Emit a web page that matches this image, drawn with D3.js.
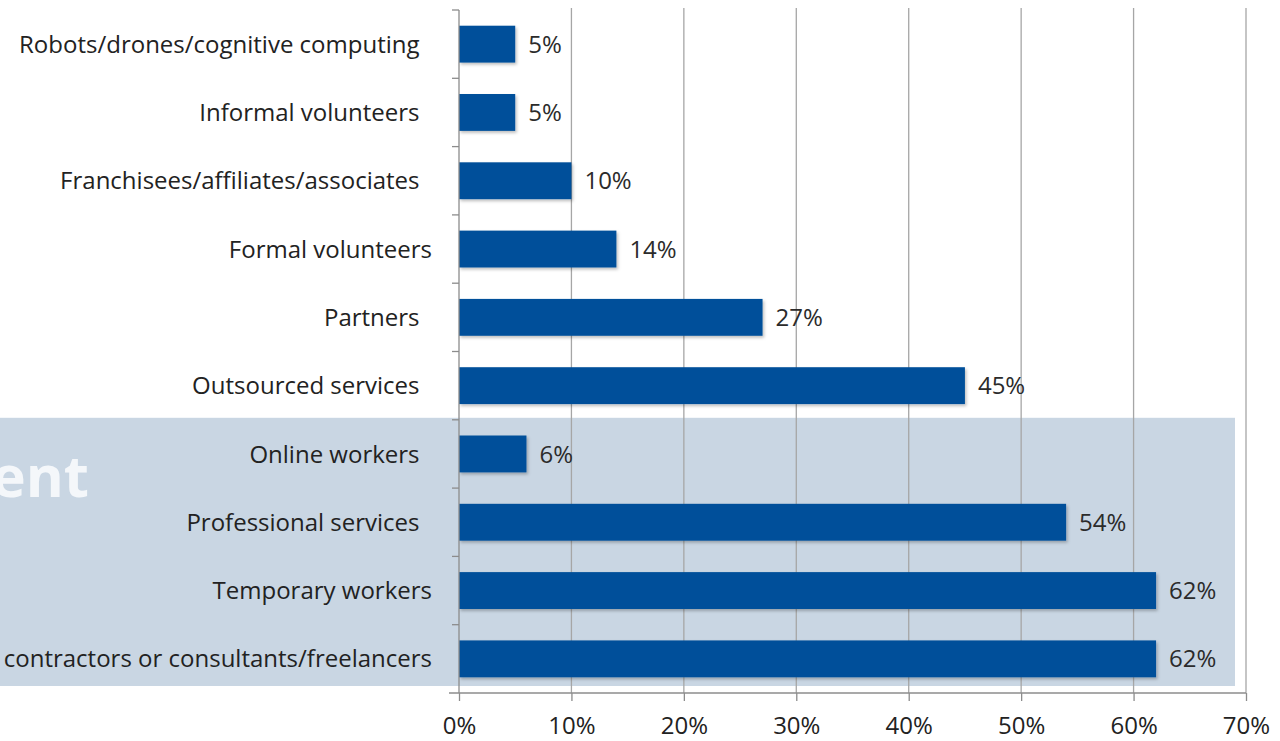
<!DOCTYPE html>
<html>
<head>
<meta charset="utf-8">
<script src="https://cdn.jsdelivr.net/npm/d3@7"></script>
<style>
  html, body { margin: 0; padding: 0; background: #ffffff; }
  svg { display: block; }
  text { font-family: "Open Sans", "DejaVu Sans", sans-serif; }
</style>
</head>
<body>
<svg id="chart" width="1280" height="741"></svg>
<script>
// Workforce categories, top to bottom (trailing spaces kept as typed in the labels)
const categories = [
  "Robots/drones/cognitive computing  ",
  "Informal volunteers  ",
  "Franchisees/affiliates/associates  ",
  "Formal volunteers",
  "Partners  ",
  "Outsourced services  ",
  "Online workers  ",
  "Professional services  ",
  "Temporary workers",
  "contractors or consultants/freelancers"
];
// Share of organisations using each category (%)
const values = [5, 5, 10, 14, 27, 45, 6, 54, 62, 62];
// Axis tick values (%)
const tickValues = [0, 10, 20, 30, 40, 50, 60, 70];

const svg = d3.select("#chart");
const plot = { left: 459, right: 1246, top: 10, bottom: 693 };
const FONT = 24;

const x = d3.scaleLinear().domain([0, 70]).range([plot.left, plot.right]);
const y = d3.scaleBand()
  .domain(categories)
  .range([plot.top, plot.bottom])
  .paddingInner(0.46)
  .paddingOuter(0.23);

// drop shadow for bars
const defs = svg.append("defs");
const f = defs.append("filter").attr("id", "shadow")
  .attr("x", "-5%").attr("y", "-20%").attr("width", "115%").attr("height", "160%");
f.append("feDropShadow").attr("dx", 1.5).attr("dy", 2).attr("stdDeviation", 1.5)
  .attr("flood-color", "#000").attr("flood-opacity", 0.25);

// highlighted panel behind the lower group
const step = y.step();
const groupTop = y(categories[6]) - y.paddingInner() * step / 2;
svg.append("rect")
  .attr("x", 0).attr("y", groupTop - 2)
  .attr("width", 1235).attr("height", 686 - (groupTop - 2))
  .attr("fill", "#c9d6e3");

svg.append("text")
  .attr("x", 89).attr("y", 497)
  .attr("text-anchor", "end")
  .attr("font-size", 58).attr("font-weight", 700)
  .attr("fill", "#f4f7fa")
  .text("Contingent");

// vertical gridlines
svg.append("g").selectAll("line")
  .data(tickValues.filter(d => d > 0))
  .join("line")
  .attr("x1", d => x(d)).attr("x2", d => x(d))
  .attr("y1", plot.top - 2).attr("y2", plot.bottom)
  .attr("stroke", "#a6a6a6").attr("stroke-width", 1.3);

// bars
svg.append("g").selectAll("rect")
  .data(categories)
  .join("rect")
  .attr("x", x(0))
  .attr("y", d => y(d))
  .attr("width", (d, i) => x(values[i]) - x(0))
  .attr("height", y.bandwidth())
  .attr("fill", "#03509a")
  .attr("filter", "url(#shadow)");

// value labels
svg.append("g").selectAll("text")
  .data(categories)
  .join("text")
  .attr("x", (d, i) => x(values[i]) + 13)
  .attr("y", d => y(d) + y.bandwidth() / 2)
  .attr("dy", "0.36em")
  .attr("font-size", FONT)
  .attr("fill", "#2b2b2b")
  .text((d, i) => values[i] + "%");

// category axis
const yAxis = svg.append("g");
yAxis.append("line")
  .attr("x1", plot.left).attr("x2", plot.left)
  .attr("y1", plot.top).attr("y2", plot.bottom)
  .attr("stroke", "#8c8c8c").attr("stroke-width", 1.3);
const boundaries = categories.map(c => y(c) - y.paddingInner() * step / 2);
yAxis.selectAll(".tk")
  .data(boundaries)
  .join("line")
  .attr("class", "tk")
  .attr("x1", plot.left - 7).attr("x2", plot.left)
  .attr("y1", d => d).attr("y2", d => d)
  .attr("stroke", "#8c8c8c").attr("stroke-width", 1.3);
yAxis.selectAll("text")
  .data(categories)
  .join("text")
  .attr("x", 432)
  .attr("y", d => y(d) + y.bandwidth() / 2)
  .attr("dy", "0.36em")
  .attr("text-anchor", "end")
  .attr("font-size", FONT)
  .attr("fill", "#222")
  .style("white-space", "pre")
  .text(d => d);

// value axis
const xAxis = svg.append("g")
  .attr("transform", `translate(0,${plot.bottom})`)
  .call(d3.axisBottom(x).tickValues(tickValues).tickSize(8).tickSizeOuter(0)
    .tickFormat(d => d + "%"));
xAxis.select(".domain").remove();
xAxis.append("line")
  .attr("x1", plot.left - 10).attr("x2", plot.right)
  .attr("stroke", "#8c8c8c").attr("stroke-width", 1.3);
xAxis.selectAll(".tick line").attr("stroke", "#8c8c8c").attr("stroke-width", 1.3);
xAxis.selectAll(".tick text")
  .attr("font-family", "\"Open Sans\", sans-serif")
  .attr("font-size", FONT)
  .attr("fill", "#222")
  .attr("y", 41)
  .attr("dy", 0);
</script>
</body>
</html>
